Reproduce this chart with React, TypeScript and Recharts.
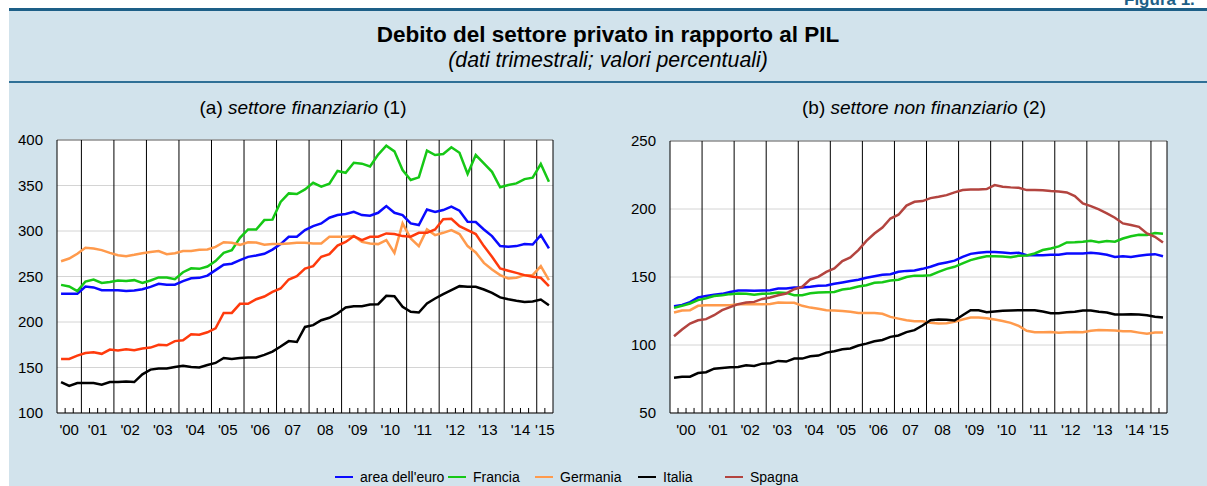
import React from 'react';
import { LineChart, Line, XAxis, YAxis, CartesianGrid, ReferenceLine } from 'recharts';

// ---------- categories ----------
const YEARS = [2000, 2001, 2002, 2003, 2004, 2005, 2006, 2007, 2008, 2009, 2010, 2011, 2012, 2013, 2014, 2015];
const YEAR_LABELS = ["'00", "'01", "'02", "'03", "'04", "'05", "'06", "07", "08", "'09", "'10", "'11", "'12", "'13", "'14", "'15"];

// (a) settore finanziario: 2000Q2 - 2015Q2
const FIN_START_YEAR = 2000;
const FIN_START_Q = 2;
const FIN_EURO = [231, 231, 231, 239, 238, 235, 235, 235, 234, 234.5, 236, 238.6, 242, 241, 241, 245, 248, 248.5, 251, 257, 263, 264, 268, 271.6, 273, 275, 279.5, 285.6, 293.7, 293.7, 301, 305.4, 308.3, 314.6, 317.5, 318.6, 321, 317.5, 316.8, 320, 327.4, 320, 317.5, 308.3, 306.5, 323.7, 321, 323, 326.7, 322.3, 310.2, 309.8, 301.7, 294.4, 283.4, 282.7, 283.4, 285.6, 285.2, 295.5, 280.8];
const FIN_FR = [240.8, 239, 234, 244.5, 246.7, 243, 244, 245.6, 245, 246, 243, 245.6, 249, 249, 247, 254.7, 259, 258.4, 261, 267, 276, 279, 292.5, 301.7, 301.7, 312, 312.5, 332, 341.3, 340.6, 345.7, 353, 348.7, 352, 366, 364, 375, 374, 371, 384, 393.7, 387.5, 367, 356, 359, 388.3, 383.5, 384.6, 392, 386, 362.6, 383.5, 374.3, 365, 348, 350.5, 352.3, 357, 358.6, 373.6, 354.2];
const FIN_DE = [266.8, 269.8, 275, 281.5, 280.8, 279, 276, 273.4, 272.3, 273.8, 275.6, 277, 278, 274.5, 275.6, 278, 278, 279.3, 279.7, 282.6, 287.7, 287, 284.8, 287.7, 287.4, 285, 285.6, 285.6, 286.3, 287, 287, 286.3, 286.3, 293.7, 293.7, 293.7, 294.4, 288, 286.3, 285.6, 290, 276, 308.3, 291.8, 283.4, 301.7, 295.5, 298, 301, 296.6, 283.4, 276.4, 265, 257.7, 251.5, 247.8, 248.6, 251.5, 251.5, 261.4, 246];
const FIN_IT = [134, 129.7, 133, 133, 133, 131, 134, 134, 134.5, 134, 142.5, 147.7, 149, 148.8, 150.6, 152, 150.6, 150, 152.8, 155, 160.5, 159.4, 160.5, 161, 161, 163.8, 167.5, 173, 179, 178, 194.6, 196.5, 202, 204.6, 209.3, 216, 217.4, 217.4, 219.2, 219.6, 228.8, 228.4, 216.7, 211.2, 210.4, 220.3, 225.8, 230.6, 235, 239.4, 238.7, 238.7, 235.7, 232, 227, 225, 223.3, 222, 222.5, 224.7, 218.5];
const FIN_ES = [159.4, 159.4, 163, 166, 166.7, 165, 169.7, 168.6, 170, 169, 170.8, 171.9, 175, 174.4, 179, 180, 186.5, 186, 188.7, 193, 210, 210, 220, 220, 225, 228, 233, 236.8, 246.7, 250.4, 258.8, 261.4, 271.7, 274.6, 284, 288, 294.4, 290, 293.7, 293.7, 297.3, 296.6, 294.4, 293.7, 298, 298, 301.7, 313, 313.5, 305.4, 301, 296.6, 283.4, 271.7, 258.8, 256.3, 254, 251.5, 249.7, 248.6, 239.4];
const FIN_TICKS = [100, 150, 200, 250, 300, 350, 400];

// (b) settore non finanziario: 2000Q1 - 2015Q2
const NF_START_YEAR = 2000;
const NF_START_Q = 1;
const NF_EURO = [128.5, 129.5, 131.5, 135, 136, 137, 137.6, 139, 140, 140, 139.8, 140, 140.3, 141.5, 141.5, 142.3, 142.3, 142.8, 143.5, 143.7, 145, 146, 147, 148, 149.4, 150.6, 151.6, 152, 153.8, 154.5, 154.8, 156, 157.5, 159.5, 160.7, 162, 164.8, 167, 167.8, 168.3, 168.3, 168, 167.5, 167.8, 166, 166, 166, 166.3, 166.3, 167.3, 167.3, 167.3, 167.8, 167.3, 166.3, 164.8, 165.3, 164.8, 165.6, 166.3, 166.8, 165.3];
const NF_FR = [127.3, 128.8, 130.5, 133, 134.4, 136, 136.6, 137.4, 137.9, 137.6, 136.9, 137.6, 137.9, 138.6, 138.3, 136.6, 136.6, 138, 138.6, 138.8, 139, 140.8, 141.5, 143, 144, 145.7, 146.2, 147.4, 148, 150, 151, 151, 151.3, 153.8, 156, 157.5, 160, 162.4, 164, 165.3, 165.3, 165, 164.6, 165.6, 165.8, 167.3, 169.8, 171, 172.5, 175.4, 175.6, 176, 176.6, 175.6, 176.4, 176, 178.3, 180, 181, 180.8, 182.3, 181.8];
const NF_DE = [123.9, 125.3, 125.6, 128.8, 129.3, 129.3, 129.3, 129.3, 130, 130, 130.2, 130, 130.2, 131.2, 131, 131, 128.8, 127.5, 126.6, 125.6, 125.3, 125, 124.4, 123.6, 123.6, 123.6, 123, 120.7, 119.4, 118.2, 117.5, 117.5, 116.3, 115.8, 116, 117, 118.7, 120.2, 120.2, 119.7, 118.7, 117.7, 116.3, 114, 110.4, 109.4, 109.4, 109.6, 109.1, 109.4, 109.6, 109.4, 110.4, 111.1, 110.9, 110.6, 110.1, 110.1, 109.1, 108.2, 109.1, 109.1];
const NF_IT = [76, 76.7, 76.7, 79.4, 80, 82.6, 83.1, 83.6, 83.9, 85.1, 84.6, 86.3, 86.6, 88.3, 87.8, 90, 90, 91.7, 92.2, 94.4, 95.4, 96.9, 97.4, 99.6, 101, 102.8, 103.7, 106, 107, 109.5, 110.9, 114.3, 118.2, 118.7, 118.5, 118, 121.9, 125.6, 125.6, 124.1, 124.6, 125.1, 125.3, 125.6, 125.6, 125.6, 124.6, 123.4, 123.4, 124.1, 124.4, 125.3, 125.3, 124.4, 123.9, 122.4, 122.4, 122.6, 122.4, 121.9, 120.7, 120.2];
const NF_ES = [106.4, 111.4, 115.8, 118.2, 119, 121.9, 125.6, 127.8, 130, 131.2, 131.7, 133.9, 134.9, 136.6, 137.9, 141, 142.8, 148.2, 150.1, 153.8, 156.3, 161.7, 164.4, 169.8, 176.6, 182, 186.4, 193, 195.8, 202.5, 205.3, 205.8, 208, 209, 210.2, 212.2, 213.9, 214.4, 214.4, 214.7, 217.6, 216.4, 215.9, 215.6, 213.9, 213.9, 213.7, 213.2, 212.9, 212.2, 209.5, 204.1, 202.1, 199.7, 196.8, 193.6, 189.4, 188.2, 186.9, 182, 179.6, 175.4];
const NF_TICKS = [50, 100, 150, 200, 250];

// ---------- series ----------
const SERIES_NAMES = ["area dell'euro", 'Francia', 'Germania', 'Italia', 'Spagna'];
const SERIES_KEYS = ['euro', 'fr', 'de', 'it', 'es'];
const COLORS = ['#0a0aff', '#16c816', '#ff9a4c', '#000000', '#b3443f'];
const FIN_ES_COLOR = '#ff3a0c';

const FONT = '"Liberation Sans", Arial, Helvetica, sans-serif';
const BG = '#d2e3ec';
const RULE = '#1d5f87';

function buildQuarters(startYear: number, startQ: number, n: number) {
  const out: { year: number; q: number }[] = [];
  let y = startYear;
  let q = startQ;
  for (let k = 0; k < n; k++) {
    out.push({ year: y, q });
    q++;
    if (q > 4) { q = 1; y++; }
  }
  return out;
}

function buildRows(startYear: number, startQ: number, cols: number[][]) {
  const qs = buildQuarters(startYear, startQ, cols[0].length);
  return qs.map((qq, i) => {
    const row: any = { i, year: qq.year, q: qq.q };
    SERIES_KEYS.forEach((k, s) => { row[k] = cols[s][i]; });
    return row;
  });
}

const finRows = buildRows(FIN_START_YEAR, FIN_START_Q, [FIN_EURO, FIN_FR, FIN_DE, FIN_IT, FIN_ES]);
const nfRows = buildRows(NF_START_YEAR, NF_START_Q, [NF_EURO, NF_FR, NF_DE, NF_IT, NF_ES]);

type PanelProps = {
  rows: any[];
  ticks: number[];
  colors: string[];
  tickLen: number;
  left: number;
  top: number;
  width: number;
  height: number;
};

function Panel({ rows, ticks, colors, tickLen, left, top, width, height }: PanelProps) {
  const n = rows.length;
  const yMin = ticks[0];
  const yMax = ticks[ticks.length - 1];
  const centres: number[] = [];
  const labels: string[] = [];
  YEARS.forEach((yr, k) => {
    const idx = rows.filter((r) => r.year === yr).map((r) => r.i);
    if (idx.length) {
      centres.push((Math.min(...idx) + Math.max(...idx)) / 2);
      labels.push(YEAR_LABELS[k]);
    }
  });
  const yearBounds = rows.filter((r) => r.q === 1 && r.i > 0).map((r) => r.i - 0.5);
  const qBounds = rows.filter((r) => r.q !== 1 && r.i > 0).map((r) => r.i - 0.5);
  const fmt = (v: number) => {
    const k = centres.findIndex((c) => Math.abs(c - v) < 0.01);
    return k >= 0 ? labels[k] : '';
  };
  const tickStyle = { fill: '#000', fontSize: 15, fontFamily: FONT };
  return (
    <div style={{ position: 'absolute', left, top, width, height }}>
      <LineChart width={width} height={height} data={rows} margin={{ top: 10, right: 0, bottom: 0, left: 0 }}>
        <CartesianGrid yAxisId="l" horizontal vertical={false} stroke="#d4d4d4" fill="#ffffff" fillOpacity={1} />
        <XAxis
          dataKey="i"
          type="number"
          domain={[-0.5, n - 0.5]}
          allowDataOverflow
          ticks={centres}
          interval={0}
          tickFormatter={fmt}
          tickLine={false}
          tickSize={0}
          tickMargin={11}
          axisLine={{ stroke: '#000', strokeWidth: 1 }}
          tick={tickStyle}
          height={30}
        />
        <YAxis
          yAxisId="l"
          domain={[yMin, yMax]}
          ticks={ticks}
          interval={0}
          tickLine={false}
          tickSize={0}
          tickMargin={14}
          axisLine={{ stroke: '#000', strokeWidth: 1 }}
          tick={tickStyle}
          width={50}
        />
        <YAxis
          yAxisId="r"
          orientation="right"
          domain={[yMin, yMax]}
          ticks={ticks}
          interval={0}
          tickLine={false}
          tickSize={0}
          tickMargin={14}
          axisLine={{ stroke: '#000', strokeWidth: 1 }}
          tick={{ ...tickStyle, textAnchor: 'start' }}
          width={50}
        />
        <ReferenceLine yAxisId="l" y={yMax} stroke="#6e6e6e" strokeWidth={1} />
        {yearBounds.map((b) => (
          <ReferenceLine key={'y' + b} yAxisId="l" x={b} stroke="#000" strokeWidth={1} />
        ))}
        {qBounds.map((b) => (
          <ReferenceLine
            key={'q' + b}
            yAxisId="l"
            segment={[{ x: b, y: yMin }, { x: b, y: yMin + tickLen }]}
            stroke="#000"
            strokeWidth={1}
          />
        ))}
        {SERIES_KEYS.map((k, s) => (
          <Line
            key={k}
            yAxisId="l"
            type="linear"
            dataKey={k}
            stroke={colors[s]}
            strokeWidth={2.5}
            dot={false}
            activeDot={false}
            isAnimationActive={false}
          />
        ))}
      </LineChart>
    </div>
  );
}

const LEGEND_X = [335, 448, 535, 638, 725];

export default function App() {
  const finColors = [...COLORS.slice(0, 4), FIN_ES_COLOR];
  return (
    <div
      style={{
        position: 'absolute',
        left: 0,
        top: 0,
        width: 1207,
        height: 486,
        background: '#fff',
        overflow: 'hidden',
        fontFamily: FONT,
      }}
    >
      <div
        style={{
          position: 'absolute',
          left: 1124,
          top: -9,
          fontSize: 17,
          fontWeight: 'bold',
          color: RULE,
          whiteSpace: 'nowrap',
          lineHeight: '17px',
        }}
      >
        Figura 1.
      </div>
      <div style={{ position: 'absolute', left: 9, top: 8, right: 0, bottom: 0, background: BG }} />
      <div style={{ position: 'absolute', left: 9, top: 8, right: 0, height: 3, background: RULE }} />
      <div style={{ position: 'absolute', left: 9, top: 81, right: 0, height: 2, background: '#2f7096' }} />
      <div
        style={{
          position: 'absolute',
          left: 9,
          right: 0,
          top: 21,
          textAlign: 'center',
          fontSize: 22.5,
          fontWeight: 'bold',
          color: '#000',
          lineHeight: '28px',
        }}
      >
        Debito del settore privato in rapporto al PIL
      </div>
      <div
        style={{
          position: 'absolute',
          left: 9,
          right: 0,
          top: 48,
          textAlign: 'center',
          fontSize: 21.3,
          fontStyle: 'italic',
          color: '#000',
          lineHeight: '24px',
        }}
      >
        (dati trimestrali; valori percentuali)
      </div>
      <div
        style={{
          position: 'absolute',
          left: 153,
          width: 300,
          top: 96,
          textAlign: 'center',
          fontSize: 19,
          color: '#000',
          lineHeight: '24px',
          whiteSpace: 'nowrap',
        }}
      >
        (a) <i>settore finanziario</i> (1)
      </div>
      <div
        style={{
          position: 'absolute',
          left: 774,
          width: 300,
          top: 96,
          textAlign: 'center',
          fontSize: 19,
          color: '#000',
          lineHeight: '24px',
          whiteSpace: 'nowrap',
        }}
      >
        (b) <i>settore non finanziario</i> (2)
      </div>

      <Panel rows={finRows} ticks={FIN_TICKS} colors={finColors} tickLen={5.5} left={7} top={130} width={596} height={313} />
      <Panel rows={nfRows} ticks={NF_TICKS} colors={COLORS} tickLen={3.7} left={620} top={131} width={597} height={312} />

      {SERIES_NAMES.map((name, s) => (
        <div
          key={name}
          style={{
            position: 'absolute',
            left: LEGEND_X[s],
            top: 468,
            height: 18,
            display: 'flex',
            alignItems: 'center',
            fontSize: 14,
            color: '#000',
            whiteSpace: 'nowrap',
          }}
        >
          <span style={{ display: 'inline-block', width: 18, height: 2.5, background: COLORS[s], marginRight: 7 }} />
          {name}
        </div>
      ))}
    </div>
  );
}
